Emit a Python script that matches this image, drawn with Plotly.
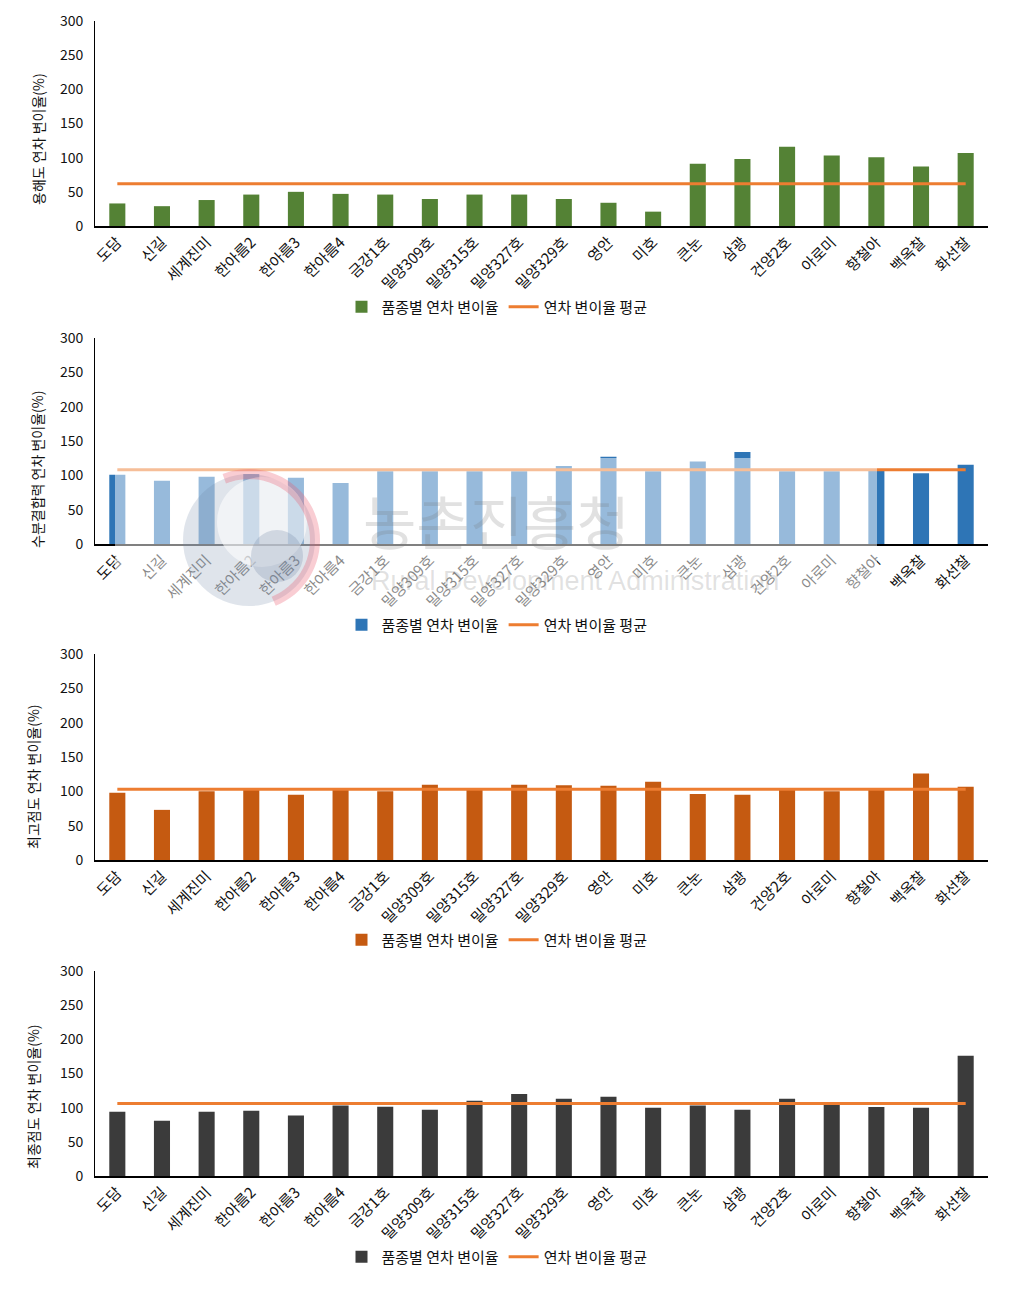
import math
import plotly.graph_objects as go

W, H = 1017, 1310
PAGE_OFFSET = 8  # default body margin of the page

categories = ["도담", "신길", "세계진미", "한아름2", "한아름3", "한아름4", "금강1호",
              "밀양309호", "밀양315호", "밀양327호", "밀양329호", "영안", "미호", "큰눈",
              "삼광", "건양2호", "아로미", "향철아", "백옥찰", "화선찰"]

solubility = [33, 29, 38, 46, 50, 47, 46, 39.5, 46, 46, 39.5, 34, 21, 91, 98, 116, 103, 100.5, 87, 107]
solubility_mean = 62

water_binding = [101, 92, 98, 102, 96.5, 89, 106, 106, 106, 106, 113.5, 127, 106, 120, 134, 106, 106, 107, 103, 115.5]
water_binding_mean = 108

peak_viscosity = [98, 73, 100, 102, 95, 103, 100, 109.5, 104.5, 109.5, 109, 108, 114, 96, 95, 103.5, 100, 103.5, 126, 106.5]
peak_viscosity_mean = 103

final_viscosity = [94, 81, 94, 95.5, 88.5, 103, 101.5, 97, 110, 120, 113, 116, 100, 103, 97, 113, 104, 101, 100, 176]
final_viscosity_mean = 106

y_titles = ["용해도 연차 변이율(%)", "수분결합력 연차 변이율(%)", "최고점도 연차 변이율(%)", "최종점도 연차 변이율(%)"]
bar_colors = ["#548235", "#2E75B6", "#C55A11", "#3B3B3B"]
line_color = "#ED7D31"
bar_name = "품종별 연차 변이율"
line_name = "연차 변이율 평균"
y_ticks = [0, 50, 100, 150, 200, 250, 300]

series = [solubility, water_binding, peak_viscosity, final_viscosity]
means = [solubility_mean, water_binding_mean, peak_viscosity_mean, final_viscosity_mean]

# pixel layout (top, bottom of each plot area), legend y, title y-center, title x
panels_px = [(21, 226), (338, 544), (654, 860), (971, 1176)]
legend_px = [307, 625, 940, 1257]
title_px = [(38, 139), (37, 470), (33, 777), (33, 1097)]
x_left, x_right = 95, 988

FONT = "Noto Sans CJK KR, Noto Sans, sans-serif"


def px_x(p):
    return (p - PAGE_OFFSET) / W


def px_y(p):
    return 1 - (p - PAGE_OFFSET) / H


fig = go.Figure()
layout_axes = {}
annotations = []
for i in range(4):
    n = i + 1
    xa = "x" if n == 1 else f"x{n}"
    ya = "y" if n == 1 else f"y{n}"
    lg = "legend" if n == 1 else f"legend{n}"
    fig.add_trace(go.Bar(
        x=categories, y=series[i], name=bar_name, xaxis=xa, yaxis=ya,
        marker=dict(color=bar_colors[i], line=dict(width=0)), legend=lg,
    ))
    fig.add_trace(go.Scatter(
        x=categories, y=[means[i]] * len(categories), name=line_name, mode="lines",
        line=dict(color=line_color, width=3), xaxis=xa, yaxis=ya, legend=lg,
    ))
    top, bot = panels_px[i]
    layout_axes["xaxis" if n == 1 else f"xaxis{n}"] = dict(
        domain=[px_x(x_left), px_x(x_right)], anchor=ya, type="category",
        tickangle=-45, showline=True, linecolor="black", linewidth=1.5,
        ticks="", showgrid=False, zeroline=False, automargin=False,
        tickfont=dict(family=FONT, size=15, color="#111"),
    )
    layout_axes["yaxis" if n == 1 else f"yaxis{n}"] = dict(
        domain=[px_y(bot), px_y(top)], anchor=xa, range=[0, 300],
        tickvals=y_ticks, showline=True, linecolor="black", linewidth=1,
        ticks="", showgrid=False, zeroline=False, ticklabelstandoff=8, automargin=False,
        tickfont=dict(family=FONT, size=14, color="#111"),
    )
    layout_axes[lg] = dict(
        orientation="h", x=px_x(497), xanchor="center", y=px_y(legend_px[i]), yanchor="middle",
        font=dict(family=FONT, size=15, color="#111"), bgcolor="rgba(0,0,0,0)",
        itemwidth=30, tracegroupgap=0,
    )
    tx, ty = title_px[i]
    annotations.append(dict(
        text=y_titles[i], x=px_x(tx), y=px_y(ty), xref="paper", yref="paper",
        textangle=-90, showarrow=False, xanchor="center", yanchor="middle",
        font=dict(family=FONT, size=14, color="#111"),
    ))

# watermark over panel 2
wm_gray = "rgba(120,120,120,0.22)"
annotations.append(dict(text="농촌진흥청", x=px_x(496), y=px_y(520), xref="paper", yref="paper",
                        showarrow=False, font=dict(family=FONT, size=58, color=wm_gray)))
annotations.append(dict(text="Rural Development Administration", x=px_x(575), y=px_y(581),
                        xref="paper", yref="paper", showarrow=False,
                        font=dict(family="Liberation Sans, Arial", size=27, color=wm_gray)))


def circle(cx, cy, r, fill):
    return dict(type="circle", xref="paper", yref="paper", layer="above",
                x0=px_x(cx - r), x1=px_x(cx + r), y0=px_y(cy + r), y1=px_y(cy - r),
                fillcolor=fill, line=dict(width=0))


def arc_path(cx, cy, r, a0, a1, steps=40):
    pts = []
    for k in range(steps + 1):
        a = math.radians(a0 + (a1 - a0) * k / steps)
        pts.append((px_x(cx + r * math.cos(a)), px_y(cy + r * math.sin(a))))
    return "M " + " L ".join(f"{x:.5f},{y:.5f}" for x, y in pts)


shapes = [
    dict(type="rect", xref="paper", yref="paper", layer="above",
         x0=px_x(115), x1=px_x(877), y0=px_y(612), y1=px_y(458),
         fillcolor="rgba(255,255,255,0.5)", line=dict(width=0)),
    circle(249, 540, 66, "rgba(110,130,165,0.22)"),
    circle(262, 522, 45, "rgba(255,255,255,0.55)"),
    circle(277, 556, 26, "rgba(110,130,165,0.25)"),
    dict(type="path", xref="paper", yref="paper", layer="above",
         path=arc_path(249, 540, 66, -112, 68),
         line=dict(color="rgba(235,90,110,0.3)", width=10)),
]

fig.update_layout(
    width=W, height=H, margin=dict(l=0, r=0, t=0, b=0, autoexpand=False),
    paper_bgcolor="white", plot_bgcolor="white",
    bargap=0.64, showlegend=True,
    annotations=annotations, shapes=shapes,
    font=dict(family=FONT),
    **layout_axes,
)

fig.write_html("out.html")
